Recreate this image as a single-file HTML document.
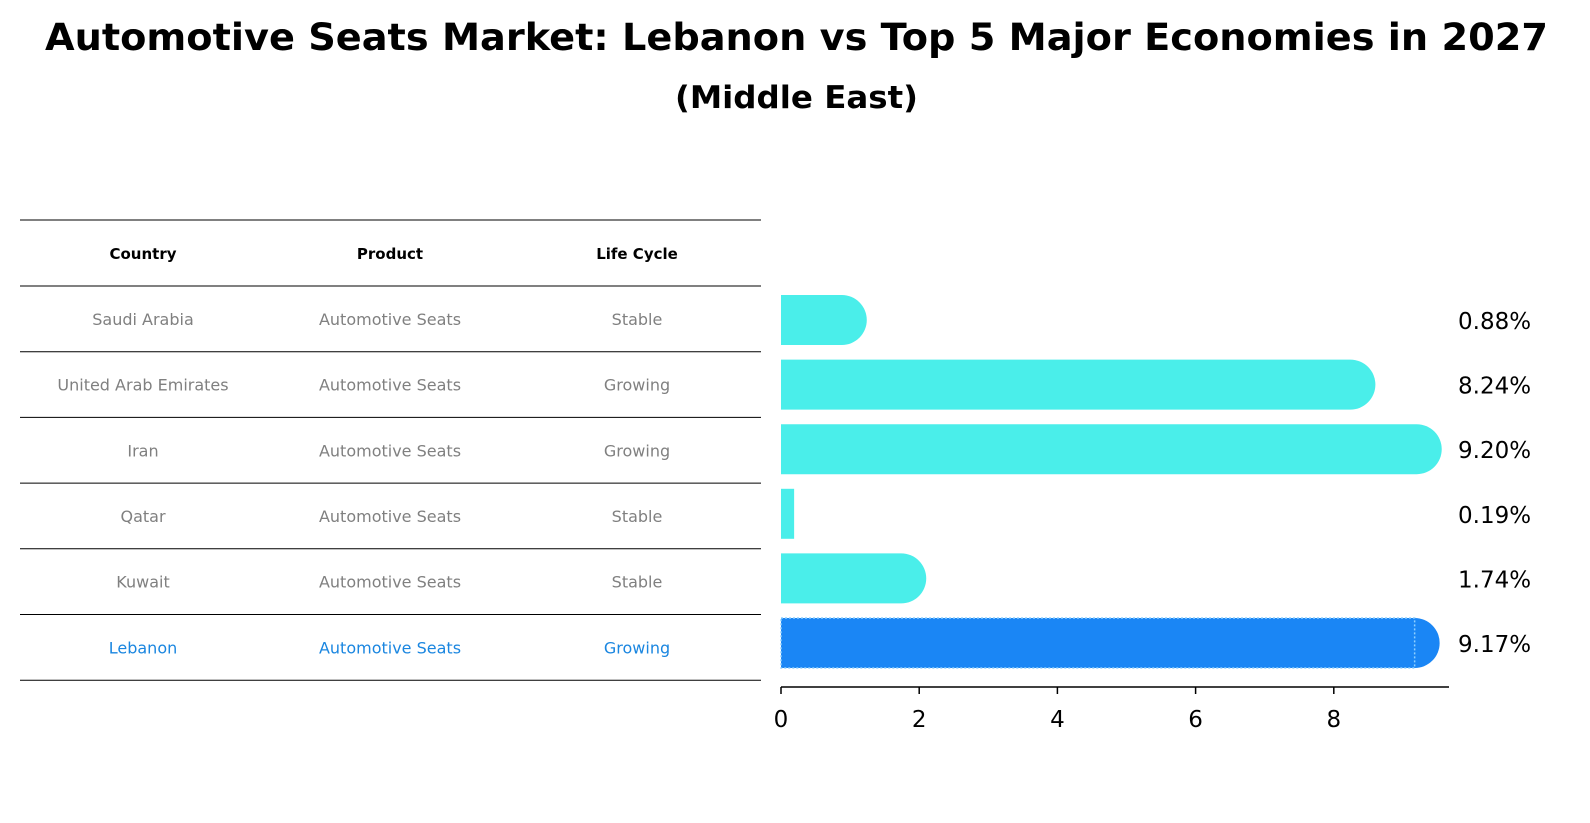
<!DOCTYPE html>
<html><head><meta charset="utf-8"><style>
html,body{margin:0;padding:0;background:#fff;overflow:hidden;width:1590px;height:823px}
svg{display:block}
</style></head><body>
<svg width="1590" height="823" viewBox="0 0 1590 823" xmlns="http://www.w3.org/2000/svg" font-family="DejaVu Sans, Liberation Sans, sans-serif">
<text x="45" y="50" font-size="37" font-weight="bold" textLength="1503" lengthAdjust="spacingAndGlyphs">Automotive Seats Market: Lebanon vs Top 5 Major Economies in 2027</text>
<text x="675" y="108" font-size="31" font-weight="bold" textLength="243" lengthAdjust="spacingAndGlyphs">(Middle East)</text>
<g id="table"></g>
<g id="bars"></g>
</svg>
<script>
const countries=["Saudi Arabia","United Arab Emirates","Iran","Qatar","Kuwait","Lebanon"];
const products=["Automotive Seats","Automotive Seats","Automotive Seats","Automotive Seats","Automotive Seats","Automotive Seats"];
const lifeCycles=["Stable","Growing","Growing","Stable","Stable","Growing"];
const values=[0.88,8.24,9.20,0.19,1.74,9.17];
const valueLabels=["0.88%","8.24%","9.20%","0.19%","1.74%","9.17%"];
const ticks=[0,2,4,6,8];
const NS="http://www.w3.org/2000/svg";
function mk(p,t,a,txt){const e=document.createElementNS(NS,t);for(const k in a)e.setAttribute(k,a[k]);if(txt!==undefined)e.textContent=txt;p.appendChild(e);return e;}
const tb=document.getElementById('table'),bg=document.getElementById('bars');
const rowTop=220,headH=66,rowH=65.7,colX=[143,390,637];
const x=v=>781+v*69.1;
const yc=i=>320+i*64.6;
let l=mk(tb,'line',{x1:20,x2:761,y1:rowTop,y2:rowTop,stroke:'#000','stroke-width':1});

["Country","Product","Life Cycle"].forEach((h,j)=>{const t=mk(tb,'text',{x:colX[j],y:259,'text-anchor':'middle','font-size':15,'font-weight':'bold'},h);
});
for(let i=0;i<=countries.length;i++){const yy=rowTop+headH+i*rowH;const ln=mk(tb,'line',{x1:20,x2:761,y1:yy,y2:yy,stroke:'#000','stroke-width':1});
}
countries.forEach((c,i)=>{const col=i===countries.length-1?'#1a86e0':'#808080';const yy=rowTop+headH+i*rowH+rowH/2+6;
[c,products[i],lifeCycles[i]].forEach((s,j)=>{const t=mk(tb,'text',{x:colX[j],y:yy,'text-anchor':'middle','font-size':16,fill:col},s);
});});
const bh=50;
values.forEach((v,i)=>{const last=i===values.length-1;const col=last?'#1a86f5':'#4aeeea';const x0=x(0),x1=x(v),y0=yc(i)-bh/2;
const g=mk(bg,'g',{});
if(v>0.5){mk(g,'path',{d:`M${x0},${y0} H${x1} A${bh/2},${bh/2} 0 0 1 ${x1},${y0+bh} H${x0} Z`,fill:col});}
else mk(g,'rect',{x:x0,y:y0,width:x1-x0,height:bh,fill:col});
if(last)mk(g,'rect',{x:x0,y:y0,width:x1-x0,height:bh,fill:'none',stroke:'#8fd0ff','stroke-width':1.5,'stroke-dasharray':'2,2'});
const t=mk(bg,'text',{x:1458,y:yc(i)+9,'font-size':23},valueLabels[i]);});
const ax=mk(bg,'line',{x1:781,x2:1449,y1:687,y2:687,stroke:'#000','stroke-width':1.5});
ticks.forEach(tk=>{const tl=mk(bg,'line',{x1:x(tk),x2:x(tk),y1:687,y2:694,stroke:'#000','stroke-width':1.5});
const t=mk(bg,'text',{x:x(tk),y:727,'text-anchor':'middle','font-size':23},String(tk));});
</script>
</body></html>
